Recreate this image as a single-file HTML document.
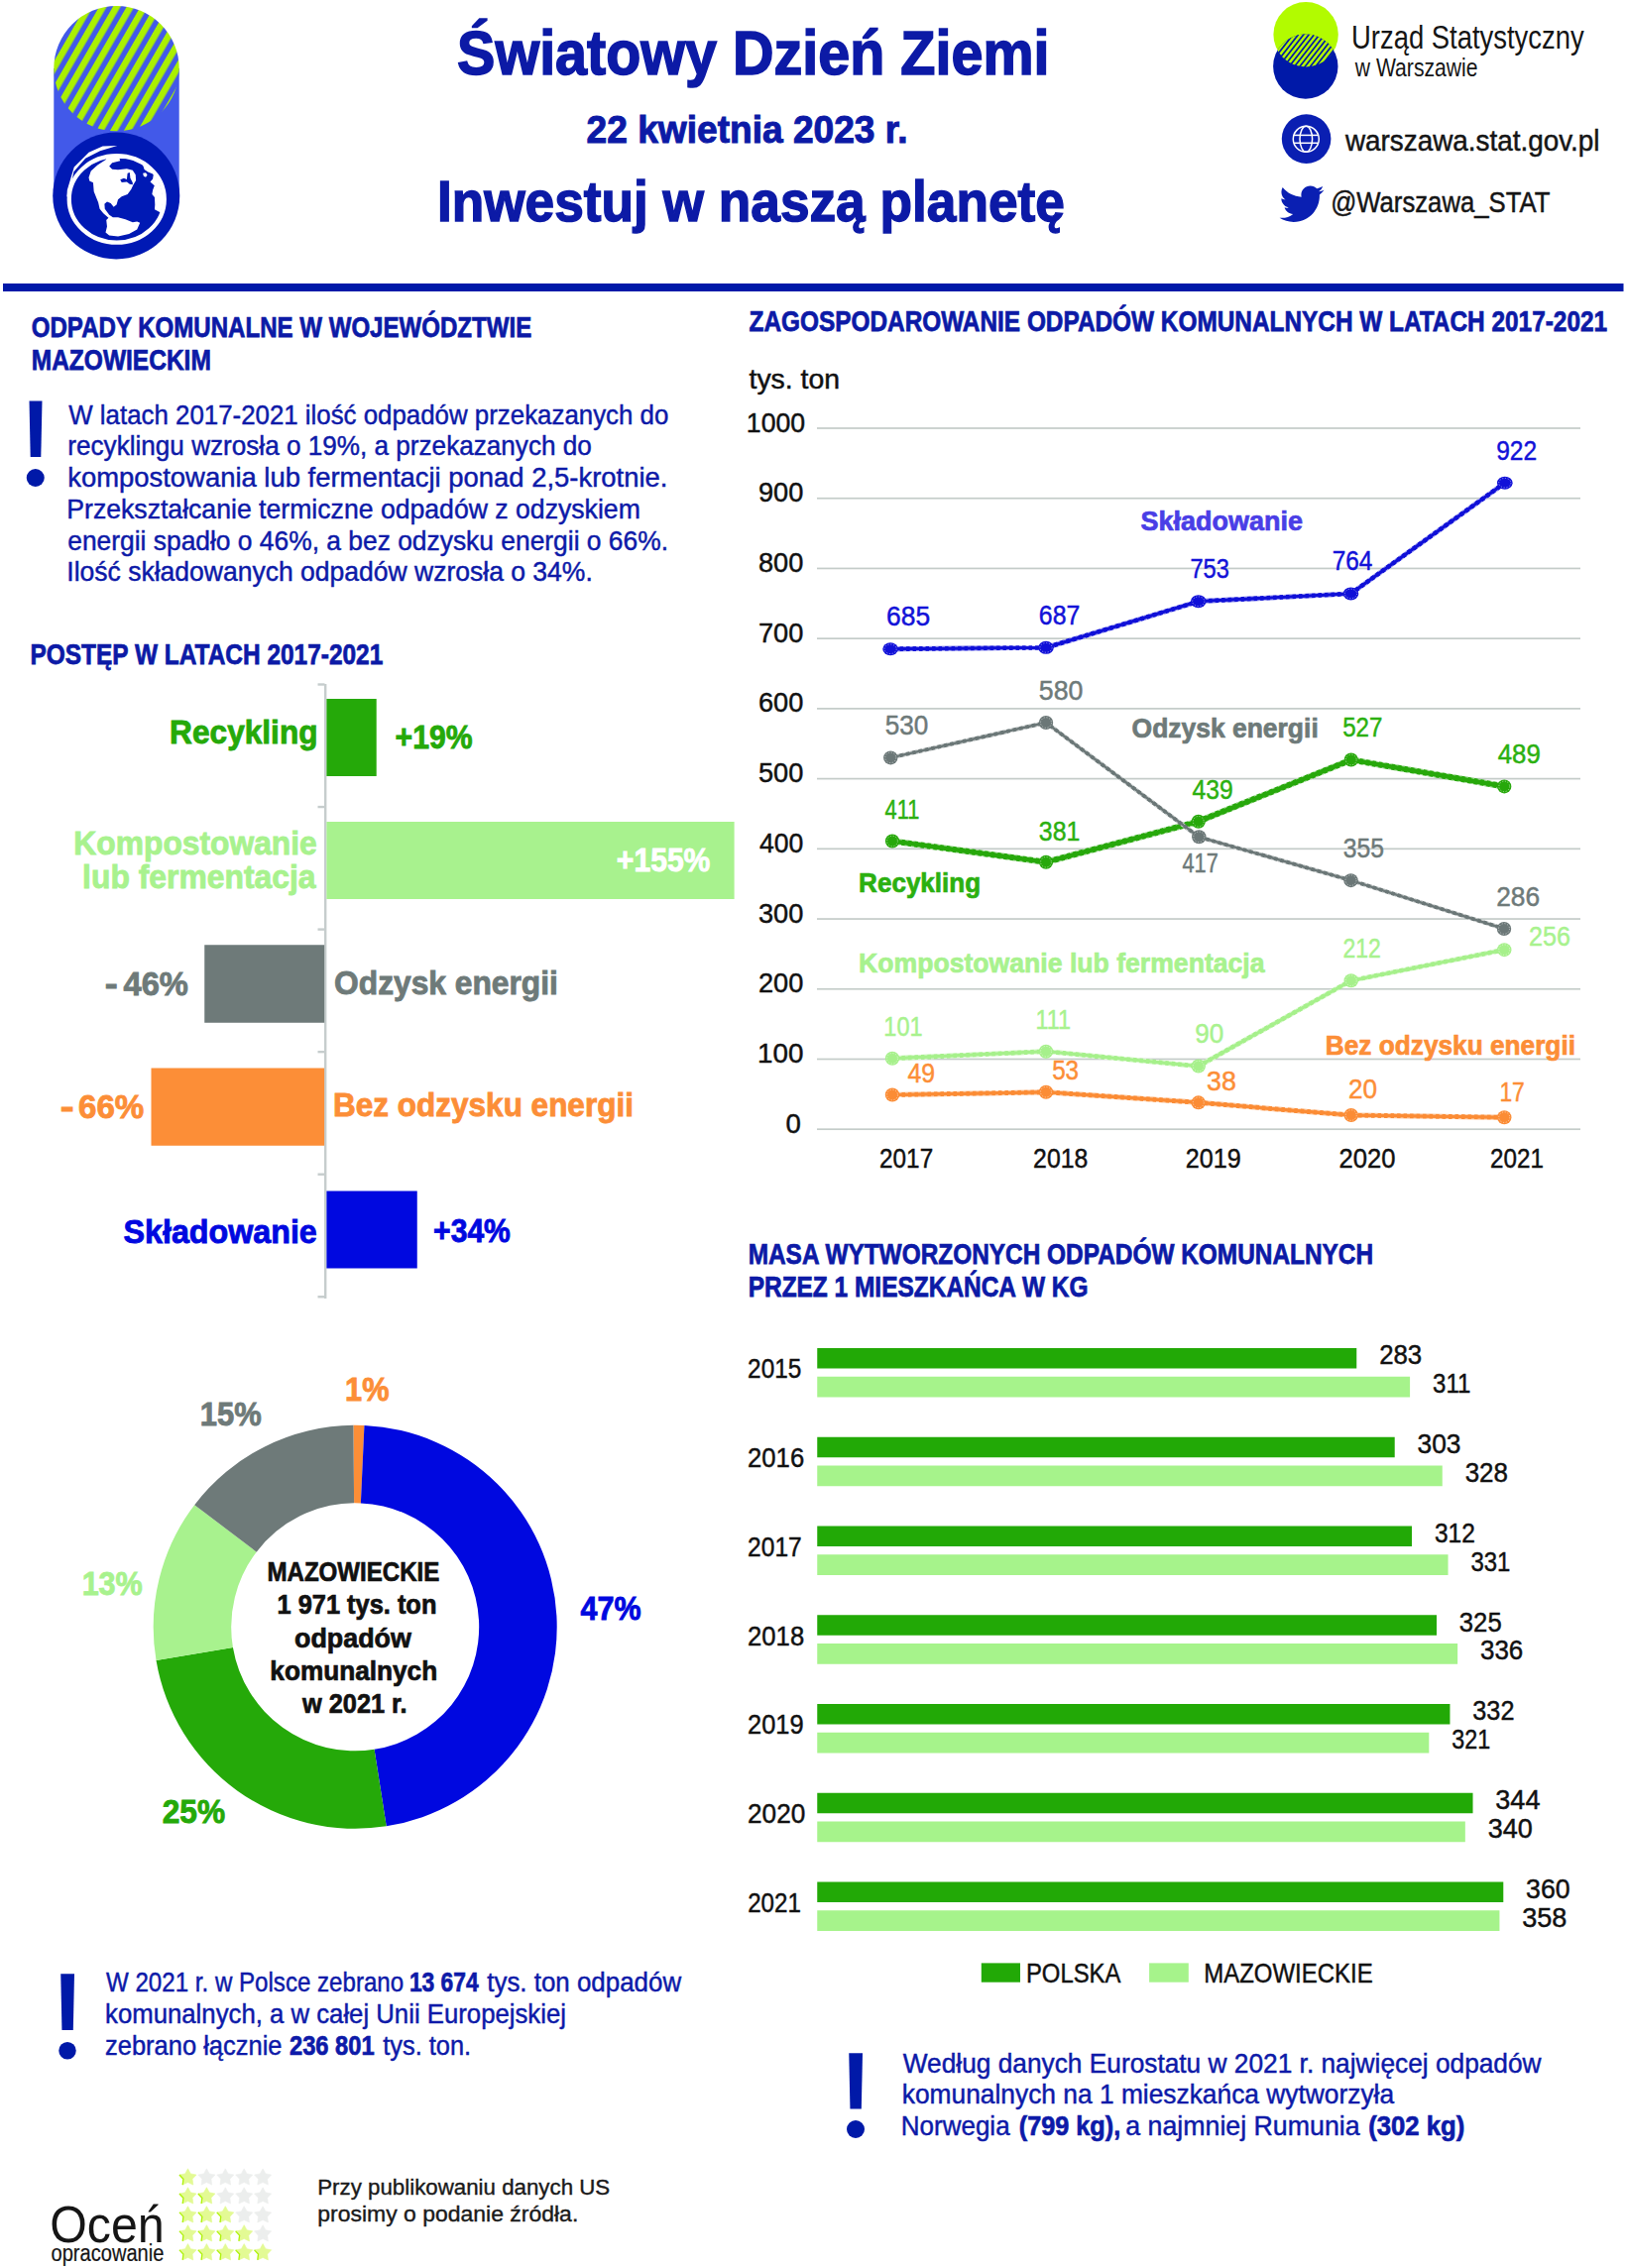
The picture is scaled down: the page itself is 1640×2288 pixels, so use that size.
<!DOCTYPE html>
<html><head><meta charset="utf-8"><style>
html,body{margin:0;padding:0;background:#fff;width:1640px;height:2288px;overflow:hidden}
svg{display:block}
text{font-family:"Liberation Sans",sans-serif}
</style></head><body>
<svg width="1640" height="2288" viewBox="0 0 1640 2288">
<rect width="1640" height="2288" fill="#fff"/>
<rect x="3" y="286" width="1634.5" height="8" fill="#0019a8"/>
<defs>
<pattern id="hatch1" patternUnits="userSpaceOnUse" width="12" height="40" patternTransform="rotate(30) translate(6.05,0)">
<rect width="12" height="40" fill="#4259e9"/><rect width="6.6" height="40" fill="#aaf000"/></pattern>
<pattern id="hatch2" patternUnits="userSpaceOnUse" width="4.2" height="20" patternTransform="rotate(38)">
<rect width="4.2" height="20" fill="#0019a8"/><rect width="2.5" height="20" fill="#b2fb00"/></pattern>
<clipPath id="lens"><circle cx="1317" cy="34.8" r="32.7"/></clipPath>
</defs>
<rect x="54.3" y="69" width="126.4" height="130" fill="#4259e9"/>
<circle cx="117.5" cy="69.1" r="63.2" fill="url(#hatch1)"/>
<circle cx="117.25" cy="197.4" r="64" fill="#0019b4"/>
<ellipse cx="117.75" cy="200.9" rx="46.5" ry="42.5" fill="#fff"/>
<clipPath id="gclip"><ellipse cx="117.75" cy="200.9" rx="47" ry="43"/></clipPath>
<polygon points="107.23,160.81 104.28,154.76 101.50,145.22 92.14,148.86 83.55,154.05 75.99,160.65 69.68,168.45 64.80,177.23 61.51,186.71 59.91,196.62 60.04,206.65 61.89,216.51 65.42,225.91 70.51,234.56 77.02,242.20 84.75,248.60 93.47,253.57 102.92,256.97 112.80,258.69 122.84,258.68 132.72,256.93 142.16,253.51 150.86,248.52 158.58,242.10 165.07,234.44 170.14,225.78 173.65,216.38 160.52,213.80 155.94,211.22 156.31,206.42 155.94,199.04 153.36,196.09 154.10,191.66 155.79,187.23 151.51,183.54 154.10,180.59 154.83,175.79 149.30,173.58 145.61,171.00 144.13,166.57 138.97,162.51 130.85,160.30 120.52,160.07 121.25,162.14 113.14,164.35 110.18,167.68 113.14,170.63 119.04,171.37 127.90,170.26 133.80,171.73 136.75,176.16 137.12,182.07 134.54,186.13 132.32,190.92 128.63,196.09 122.73,198.30 119.04,201.25 117.56,206.42 114.61,208.63 111.66,204.94 107.97,203.47 105.39,205.68 105.76,210.85 110.18,216.75 113.87,219.34 119.04,219.34 126.42,221.18 133.80,224.13 138.23,223.39 141.18,224.87 138.23,231.51 130.11,235.94 119.04,238.52 110.18,237.42 106.49,234.46 107.97,228.56 107.23,221.92 109.45,219.70 104.28,215.28 100.59,210.85 99.11,204.21 94.69,193.14 93.95,184.28 90.26,182.44 89.52,179.11 91.73,172.47 98.38,166.57 107.23,160.81" fill="#0019b4" clip-path="url(#gclip)"/>
<polygon points="121.25,181.33 124.94,179.85 127.90,180.96 128.63,174.69 130.85,173.95 131.44,179.85 133.80,184.28 133.80,186.13 130.85,185.76 127.90,183.54 122.73,183.91" fill="#0019b4"/>
<polygon points="144.13,174.69 147.08,174.32 148.56,176.53 147.08,178.75 144.87,177.64" fill="#fff"/>
<ellipse cx="117.75" cy="200.9" rx="48" ry="43.7" fill="none" stroke="#fff" stroke-width="4.3"/>
<polygon points="118.30,147.08 103.54,147.38 89.52,153.87 74.76,168.41 67.82,191.66 67.38,199.04 69.96,194.61 74.39,173.21 86.20,159.78 100.96,152.18" fill="#fff"/>
<circle cx="1317.1" cy="34.8" r="32.7" fill="#b2fb00"/>
<circle cx="1316.8" cy="67.1" r="32.7" fill="#0019a8"/>
<circle cx="1316.8" cy="67.1" r="32.7" fill="url(#hatch2)" clip-path="url(#lens)"/>
<circle cx="1317.6" cy="140.1" r="24.8" fill="#0a1fb2"/>
<g fill="none" stroke="#fff" stroke-width="1.5">
<circle cx="1317.3" cy="140.3" r="13"/>
<ellipse cx="1317.3" cy="140.3" rx="6.3" ry="13"/>
<line x1="1304.8" y1="136.4" x2="1329.8" y2="136.4"/>
<line x1="1304.8" y1="144.3" x2="1329.8" y2="144.3"/>
</g>
<path transform="translate(1290.6,183.2) scale(1.87)" fill="#0a1fb2" d="M23.954 4.569c-.885.389-1.83.654-2.825.775 1.014-.611 1.794-1.574 2.163-2.723-.951.555-2.005.959-3.127 1.184-.896-.959-2.173-1.559-3.591-1.559-2.717 0-4.92 2.203-4.92 4.917 0 .39.045.765.127 1.124C7.691 8.094 4.066 6.13 1.64 3.161c-.427.722-.666 1.561-.666 2.475 0 1.71.87 3.213 2.188 4.096-.807-.026-1.566-.248-2.228-.616v.061c0 2.385 1.693 4.374 3.946 4.827-.413.111-.849.171-1.296.171-.314 0-.615-.03-.916-.086.631 1.953 2.445 3.377 4.604 3.417-1.68 1.319-3.809 2.105-6.102 2.105-.39 0-.779-.023-1.17-.067 2.189 1.394 4.768 2.209 7.557 2.209 9.054 0 13.999-7.496 13.999-13.986 0-.209 0-.42-.015-.63.961-.689 1.8-1.56 2.46-2.548l-.047-.02z"/>
<path d="M29.5,404.5 L42.5,404.5 L41.3,461 L30.7,461 Z" fill="#0019a8"/><circle cx="35.75" cy="482" r="9" fill="#0019a8"/>
<path d="M61.25,1991.25 L75,1991.25 L73.8,2048 L62.45,2048 Z" fill="#0019a8"/><circle cx="68" cy="2068.75" r="8.75" fill="#0019a8"/>
<path d="M856.25,2071.25 L870,2071.25 L868.8,2127.5 L857.45,2127.5 Z" fill="#0019a8"/><circle cx="863" cy="2148" r="9" fill="#0019a8"/>
<rect x="327" y="690" width="2.4" height="620" fill="#c6cdcd"/>
<rect x="320.5" y="689.30" width="7" height="2.4" fill="#c6cdcd"/>
<rect x="320.5" y="812.85" width="7" height="2.4" fill="#c6cdcd"/>
<rect x="320.5" y="936.40" width="7" height="2.4" fill="#c6cdcd"/>
<rect x="320.5" y="1059.95" width="7" height="2.4" fill="#c6cdcd"/>
<rect x="320.5" y="1183.50" width="7" height="2.4" fill="#c6cdcd"/>
<rect x="320.5" y="1307.05" width="7" height="2.4" fill="#c6cdcd"/>
<rect x="329.4" y="705" width="50.3" height="78" fill="#25a909"/>
<rect x="329.4" y="829" width="411.2" height="78" fill="#a8f28e"/>
<rect x="206.25" y="953.25" width="120.9" height="78.5" fill="#6e7a79"/>
<rect x="152.5" y="1077.5" width="174.6" height="78.25" fill="#fc8e37"/>
<rect x="329.4" y="1201.5" width="91.35" height="78" fill="#0008e0"/>
<rect x="824" y="1138.35" width="770" height="1.7" fill="#c4ccc9"/>
<rect x="824" y="1067.63" width="770" height="1.7" fill="#c4ccc9"/>
<rect x="824" y="996.91" width="770" height="1.7" fill="#c4ccc9"/>
<rect x="824" y="926.19" width="770" height="1.7" fill="#c4ccc9"/>
<rect x="824" y="855.47" width="770" height="1.7" fill="#c4ccc9"/>
<rect x="824" y="784.75" width="770" height="1.7" fill="#c4ccc9"/>
<rect x="824" y="714.03" width="770" height="1.7" fill="#c4ccc9"/>
<rect x="824" y="643.31" width="770" height="1.7" fill="#c4ccc9"/>
<rect x="824" y="572.59" width="770" height="1.7" fill="#c4ccc9"/>
<rect x="824" y="501.87" width="770" height="1.7" fill="#c4ccc9"/>
<rect x="824" y="431.15" width="770" height="1.7" fill="#c4ccc9"/>
<polyline points="900.00,1104.55 1055.00,1101.72 1208.75,1112.33 1362.75,1125.06 1517.25,1127.18" fill="none" stroke="#fb8c35" stroke-width="5.0" stroke-linejoin="round"/>
<polyline points="900.00,1104.55 1055.00,1101.72 1208.75,1112.33 1362.75,1125.06 1517.25,1127.18" fill="none" stroke="#fff" stroke-opacity="0.75" stroke-width="5.0" stroke-dasharray="3 3.5" stroke-linejoin="round"/>
<polyline points="900.00,1104.55 1055.00,1101.72 1208.75,1112.33 1362.75,1125.06 1517.25,1127.18" fill="none" stroke="#fb8c35" stroke-width="3.50" stroke-linejoin="round"/>
<ellipse cx="900.00" cy="1104.55" rx="7.2" ry="7.0" fill="#fb8c35"/>
<ellipse cx="900.00" cy="1104.55" rx="5.50" ry="5.30" fill="none" stroke="#fff" stroke-opacity="0.85" stroke-width="0.6" stroke-dasharray="1.2 1.6"/>
<ellipse cx="1055.00" cy="1101.72" rx="7.2" ry="7.0" fill="#fb8c35"/>
<ellipse cx="1055.00" cy="1101.72" rx="5.50" ry="5.30" fill="none" stroke="#fff" stroke-opacity="0.85" stroke-width="0.6" stroke-dasharray="1.2 1.6"/>
<ellipse cx="1208.75" cy="1112.33" rx="7.2" ry="7.0" fill="#fb8c35"/>
<ellipse cx="1208.75" cy="1112.33" rx="5.50" ry="5.30" fill="none" stroke="#fff" stroke-opacity="0.85" stroke-width="0.6" stroke-dasharray="1.2 1.6"/>
<ellipse cx="1362.75" cy="1125.06" rx="7.2" ry="7.0" fill="#fb8c35"/>
<ellipse cx="1362.75" cy="1125.06" rx="5.50" ry="5.30" fill="none" stroke="#fff" stroke-opacity="0.85" stroke-width="0.6" stroke-dasharray="1.2 1.6"/>
<ellipse cx="1517.25" cy="1127.18" rx="7.2" ry="7.0" fill="#fb8c35"/>
<ellipse cx="1517.25" cy="1127.18" rx="5.50" ry="5.30" fill="none" stroke="#fff" stroke-opacity="0.85" stroke-width="0.6" stroke-dasharray="1.2 1.6"/>
<polyline points="900.00,1067.77 1055.00,1060.70 1208.75,1075.55 1362.75,989.27 1517.25,958.16" fill="none" stroke="#a6f08b" stroke-width="4.8" stroke-linejoin="round"/>
<polyline points="900.00,1067.77 1055.00,1060.70 1208.75,1075.55 1362.75,989.27 1517.25,958.16" fill="none" stroke="#fff" stroke-opacity="0.75" stroke-width="4.8" stroke-dasharray="3 3.5" stroke-linejoin="round"/>
<polyline points="900.00,1067.77 1055.00,1060.70 1208.75,1075.55 1362.75,989.27 1517.25,958.16" fill="none" stroke="#a6f08b" stroke-width="3.30" stroke-linejoin="round"/>
<ellipse cx="900.00" cy="1067.77" rx="7.2" ry="7.0" fill="#a6f08b"/>
<ellipse cx="900.00" cy="1067.77" rx="5.50" ry="5.30" fill="none" stroke="#fff" stroke-opacity="0.85" stroke-width="0.6" stroke-dasharray="1.2 1.6"/>
<ellipse cx="1055.00" cy="1060.70" rx="7.2" ry="7.0" fill="#a6f08b"/>
<ellipse cx="1055.00" cy="1060.70" rx="5.50" ry="5.30" fill="none" stroke="#fff" stroke-opacity="0.85" stroke-width="0.6" stroke-dasharray="1.2 1.6"/>
<ellipse cx="1208.75" cy="1075.55" rx="7.2" ry="7.0" fill="#a6f08b"/>
<ellipse cx="1208.75" cy="1075.55" rx="5.50" ry="5.30" fill="none" stroke="#fff" stroke-opacity="0.85" stroke-width="0.6" stroke-dasharray="1.2 1.6"/>
<ellipse cx="1362.75" cy="989.27" rx="7.2" ry="7.0" fill="#a6f08b"/>
<ellipse cx="1362.75" cy="989.27" rx="5.50" ry="5.30" fill="none" stroke="#fff" stroke-opacity="0.85" stroke-width="0.6" stroke-dasharray="1.2 1.6"/>
<ellipse cx="1517.25" cy="958.16" rx="7.2" ry="7.0" fill="#a6f08b"/>
<ellipse cx="1517.25" cy="958.16" rx="5.50" ry="5.30" fill="none" stroke="#fff" stroke-opacity="0.85" stroke-width="0.6" stroke-dasharray="1.2 1.6"/>
<polyline points="900.00,848.54 1055.00,869.76 1208.75,828.74 1362.75,766.51 1517.25,793.38" fill="none" stroke="#27a80b" stroke-width="6.2" stroke-linejoin="round"/>
<polyline points="900.00,848.54 1055.00,869.76 1208.75,828.74 1362.75,766.51 1517.25,793.38" fill="none" stroke="#fff" stroke-opacity="0.75" stroke-width="6.2" stroke-dasharray="3 3.5" stroke-linejoin="round"/>
<polyline points="900.00,848.54 1055.00,869.76 1208.75,828.74 1362.75,766.51 1517.25,793.38" fill="none" stroke="#27a80b" stroke-width="4.70" stroke-linejoin="round"/>
<ellipse cx="900.00" cy="848.54" rx="7.1" ry="7.0" fill="#27a80b"/>
<ellipse cx="900.00" cy="848.54" rx="5.40" ry="5.30" fill="none" stroke="#fff" stroke-opacity="0.85" stroke-width="0.6" stroke-dasharray="1.2 1.6"/>
<ellipse cx="1055.00" cy="869.76" rx="7.1" ry="7.0" fill="#27a80b"/>
<ellipse cx="1055.00" cy="869.76" rx="5.40" ry="5.30" fill="none" stroke="#fff" stroke-opacity="0.85" stroke-width="0.6" stroke-dasharray="1.2 1.6"/>
<ellipse cx="1208.75" cy="828.74" rx="7.1" ry="7.0" fill="#27a80b"/>
<ellipse cx="1208.75" cy="828.74" rx="5.40" ry="5.30" fill="none" stroke="#fff" stroke-opacity="0.85" stroke-width="0.6" stroke-dasharray="1.2 1.6"/>
<ellipse cx="1362.75" cy="766.51" rx="7.1" ry="7.0" fill="#27a80b"/>
<ellipse cx="1362.75" cy="766.51" rx="5.40" ry="5.30" fill="none" stroke="#fff" stroke-opacity="0.85" stroke-width="0.6" stroke-dasharray="1.2 1.6"/>
<ellipse cx="1517.25" cy="793.38" rx="7.1" ry="7.0" fill="#27a80b"/>
<ellipse cx="1517.25" cy="793.38" rx="5.40" ry="5.30" fill="none" stroke="#fff" stroke-opacity="0.85" stroke-width="0.6" stroke-dasharray="1.2 1.6"/>
<polyline points="898.30,764.38 1055.00,729.02 1209.30,844.30 1362.50,888.14 1517.00,936.94" fill="none" stroke="#6b7777" stroke-width="4.0" stroke-linejoin="round"/>
<polyline points="898.30,764.38 1055.00,729.02 1209.30,844.30 1362.50,888.14 1517.00,936.94" fill="none" stroke="#fff" stroke-opacity="0.75" stroke-width="4.0" stroke-dasharray="3 3.5" stroke-linejoin="round"/>
<polyline points="898.30,764.38 1055.00,729.02 1209.30,844.30 1362.50,888.14 1517.00,936.94" fill="none" stroke="#6b7777" stroke-width="2.50" stroke-linejoin="round"/>
<ellipse cx="898.30" cy="764.38" rx="7.2" ry="7.0" fill="#6b7777"/>
<ellipse cx="898.30" cy="764.38" rx="5.50" ry="5.30" fill="none" stroke="#fff" stroke-opacity="0.85" stroke-width="0.6" stroke-dasharray="1.2 1.6"/>
<ellipse cx="1055.00" cy="729.02" rx="7.2" ry="7.0" fill="#6b7777"/>
<ellipse cx="1055.00" cy="729.02" rx="5.50" ry="5.30" fill="none" stroke="#fff" stroke-opacity="0.85" stroke-width="0.6" stroke-dasharray="1.2 1.6"/>
<ellipse cx="1209.30" cy="844.30" rx="7.2" ry="7.0" fill="#6b7777"/>
<ellipse cx="1209.30" cy="844.30" rx="5.50" ry="5.30" fill="none" stroke="#fff" stroke-opacity="0.85" stroke-width="0.6" stroke-dasharray="1.2 1.6"/>
<ellipse cx="1362.50" cy="888.14" rx="7.2" ry="7.0" fill="#6b7777"/>
<ellipse cx="1362.50" cy="888.14" rx="5.50" ry="5.30" fill="none" stroke="#fff" stroke-opacity="0.85" stroke-width="0.6" stroke-dasharray="1.2 1.6"/>
<ellipse cx="1517.00" cy="936.94" rx="7.2" ry="7.0" fill="#6b7777"/>
<ellipse cx="1517.00" cy="936.94" rx="5.50" ry="5.30" fill="none" stroke="#fff" stroke-opacity="0.85" stroke-width="0.6" stroke-dasharray="1.2 1.6"/>
<polyline points="898.10,654.77 1055.00,653.35 1208.75,606.68 1362.50,598.90 1517.80,487.16" fill="none" stroke="#1010d8" stroke-width="4.8" stroke-linejoin="round"/>
<polyline points="898.10,654.77 1055.00,653.35 1208.75,606.68 1362.50,598.90 1517.80,487.16" fill="none" stroke="#fff" stroke-opacity="0.75" stroke-width="4.8" stroke-dasharray="3 3.5" stroke-linejoin="round"/>
<polyline points="898.10,654.77 1055.00,653.35 1208.75,606.68 1362.50,598.90 1517.80,487.16" fill="none" stroke="#1010d8" stroke-width="3.30" stroke-linejoin="round"/>
<ellipse cx="898.10" cy="654.77" rx="7.8" ry="6.5" fill="#1010d8"/>
<ellipse cx="898.10" cy="654.77" rx="6.10" ry="4.80" fill="none" stroke="#fff" stroke-opacity="0.85" stroke-width="0.6" stroke-dasharray="1.2 1.6"/>
<ellipse cx="1055.00" cy="653.35" rx="7.8" ry="6.5" fill="#1010d8"/>
<ellipse cx="1055.00" cy="653.35" rx="6.10" ry="4.80" fill="none" stroke="#fff" stroke-opacity="0.85" stroke-width="0.6" stroke-dasharray="1.2 1.6"/>
<ellipse cx="1208.75" cy="606.68" rx="7.8" ry="6.5" fill="#1010d8"/>
<ellipse cx="1208.75" cy="606.68" rx="6.10" ry="4.80" fill="none" stroke="#fff" stroke-opacity="0.85" stroke-width="0.6" stroke-dasharray="1.2 1.6"/>
<ellipse cx="1362.50" cy="598.90" rx="7.8" ry="6.5" fill="#1010d8"/>
<ellipse cx="1362.50" cy="598.90" rx="6.10" ry="4.80" fill="none" stroke="#fff" stroke-opacity="0.85" stroke-width="0.6" stroke-dasharray="1.2 1.6"/>
<ellipse cx="1517.80" cy="487.16" rx="7.8" ry="6.5" fill="#1010d8"/>
<ellipse cx="1517.80" cy="487.16" rx="6.10" ry="4.80" fill="none" stroke="#fff" stroke-opacity="0.85" stroke-width="0.6" stroke-dasharray="1.2 1.6"/>
<rect x="824.25" y="1360.00" width="544.01" height="20.5" fill="#22a906"/>
<rect x="824.25" y="1388.75" width="597.84" height="20.75" fill="#a6f38b"/>
<rect x="824.25" y="1449.75" width="582.46" height="20.5" fill="#22a906"/>
<rect x="824.25" y="1478.50" width="630.51" height="20.75" fill="#a6f38b"/>
<rect x="824.25" y="1539.50" width="599.76" height="20.5" fill="#22a906"/>
<rect x="824.25" y="1568.25" width="636.28" height="20.75" fill="#a6f38b"/>
<rect x="824.25" y="1629.25" width="624.75" height="20.5" fill="#22a906"/>
<rect x="824.25" y="1658.00" width="645.89" height="20.75" fill="#a6f38b"/>
<rect x="824.25" y="1719.00" width="638.20" height="20.5" fill="#22a906"/>
<rect x="824.25" y="1747.75" width="617.06" height="20.75" fill="#a6f38b"/>
<rect x="824.25" y="1808.75" width="661.27" height="20.5" fill="#22a906"/>
<rect x="824.25" y="1837.50" width="653.58" height="20.75" fill="#a6f38b"/>
<rect x="824.25" y="1898.50" width="692.03" height="20.5" fill="#22a906"/>
<rect x="824.25" y="1927.25" width="688.18" height="20.75" fill="#a6f38b"/>
<rect x="989.8" y="1980.4" width="39.2" height="19.3" fill="#22a906"/>
<rect x="1159.1" y="1980.4" width="39.7" height="19.3" fill="#a6f38b"/>
<path d="M356.42,1437.81 A203.5,203.5 0 0 1 367.45,1438.01 L363.88,1516.43 A125,125 0 0 0 357.11,1516.30 Z" fill="#fc8e37"/>
<path d="M367.45,1438.01 A203.5,203.5 0 0 1 389.70,1842.35 L377.55,1764.79 A125,125 0 0 0 363.88,1516.43 Z" fill="#0008e0"/>
<path d="M389.70,1842.35 A203.5,203.5 0 0 1 157.52,1675.05 L234.93,1662.03 A125,125 0 0 0 377.55,1764.79 Z" fill="#25a909"/>
<path d="M157.52,1675.05 A203.5,203.5 0 0 1 196.18,1518.16 L258.68,1565.66 A125,125 0 0 0 234.93,1662.03 Z" fill="#a8f28e"/>
<path d="M196.18,1518.16 A203.5,203.5 0 0 1 356.42,1437.81 L357.11,1516.30 A125,125 0 0 0 258.68,1565.66 Z" fill="#6e7a79"/>
<polygon points="189.50,2187.80 192.32,2192.92 198.06,2194.02 194.07,2198.28 194.79,2204.08 189.50,2201.60 184.21,2204.08 184.93,2198.28 180.94,2194.02 186.68,2192.92" fill="#e3fa94" stroke="#e3fa94" stroke-width="0.6" stroke-linejoin="round"/>
<polyline points="180.94,2194.02 184.93,2198.28 184.21,2204.08" fill="none" stroke="#aef20a" stroke-width="1.3"/>
<polygon points="208.40,2187.80 211.22,2192.92 216.96,2194.02 212.97,2198.28 213.69,2204.08 208.40,2201.60 203.11,2204.08 203.83,2198.28 199.84,2194.02 205.58,2192.92" fill="#eceeed" stroke="#eceeed" stroke-width="0.6" stroke-linejoin="round"/>
<polygon points="227.30,2187.80 230.12,2192.92 235.86,2194.02 231.87,2198.28 232.59,2204.08 227.30,2201.60 222.01,2204.08 222.73,2198.28 218.74,2194.02 224.48,2192.92" fill="#eceeed" stroke="#eceeed" stroke-width="0.6" stroke-linejoin="round"/>
<polygon points="246.20,2187.80 249.02,2192.92 254.76,2194.02 250.77,2198.28 251.49,2204.08 246.20,2201.60 240.91,2204.08 241.63,2198.28 237.64,2194.02 243.38,2192.92" fill="#eceeed" stroke="#eceeed" stroke-width="0.6" stroke-linejoin="round"/>
<polygon points="265.10,2187.80 267.92,2192.92 273.66,2194.02 269.67,2198.28 270.39,2204.08 265.10,2201.60 259.81,2204.08 260.53,2198.28 256.54,2194.02 262.28,2192.92" fill="#eceeed" stroke="#eceeed" stroke-width="0.6" stroke-linejoin="round"/>
<polygon points="189.50,2206.75 192.32,2211.87 198.06,2212.97 194.07,2217.23 194.79,2223.03 189.50,2220.55 184.21,2223.03 184.93,2217.23 180.94,2212.97 186.68,2211.87" fill="#e3fa94" stroke="#e3fa94" stroke-width="0.6" stroke-linejoin="round"/>
<polyline points="180.94,2212.97 184.93,2217.23 184.21,2223.03" fill="none" stroke="#aef20a" stroke-width="1.3"/>
<polygon points="208.40,2206.75 211.22,2211.87 216.96,2212.97 212.97,2217.23 213.69,2223.03 208.40,2220.55 203.11,2223.03 203.83,2217.23 199.84,2212.97 205.58,2211.87" fill="#e3fa94" stroke="#e3fa94" stroke-width="0.6" stroke-linejoin="round"/>
<polyline points="199.84,2212.97 203.83,2217.23 203.11,2223.03" fill="none" stroke="#aef20a" stroke-width="1.3"/>
<polygon points="227.30,2206.75 230.12,2211.87 235.86,2212.97 231.87,2217.23 232.59,2223.03 227.30,2220.55 222.01,2223.03 222.73,2217.23 218.74,2212.97 224.48,2211.87" fill="#eceeed" stroke="#eceeed" stroke-width="0.6" stroke-linejoin="round"/>
<polygon points="246.20,2206.75 249.02,2211.87 254.76,2212.97 250.77,2217.23 251.49,2223.03 246.20,2220.55 240.91,2223.03 241.63,2217.23 237.64,2212.97 243.38,2211.87" fill="#eceeed" stroke="#eceeed" stroke-width="0.6" stroke-linejoin="round"/>
<polygon points="265.10,2206.75 267.92,2211.87 273.66,2212.97 269.67,2217.23 270.39,2223.03 265.10,2220.55 259.81,2223.03 260.53,2217.23 256.54,2212.97 262.28,2211.87" fill="#eceeed" stroke="#eceeed" stroke-width="0.6" stroke-linejoin="round"/>
<polygon points="189.50,2225.70 192.32,2230.82 198.06,2231.92 194.07,2236.18 194.79,2241.98 189.50,2239.50 184.21,2241.98 184.93,2236.18 180.94,2231.92 186.68,2230.82" fill="#e3fa94" stroke="#e3fa94" stroke-width="0.6" stroke-linejoin="round"/>
<polyline points="180.94,2231.92 184.93,2236.18 184.21,2241.98" fill="none" stroke="#aef20a" stroke-width="1.3"/>
<polygon points="208.40,2225.70 211.22,2230.82 216.96,2231.92 212.97,2236.18 213.69,2241.98 208.40,2239.50 203.11,2241.98 203.83,2236.18 199.84,2231.92 205.58,2230.82" fill="#e3fa94" stroke="#e3fa94" stroke-width="0.6" stroke-linejoin="round"/>
<polyline points="199.84,2231.92 203.83,2236.18 203.11,2241.98" fill="none" stroke="#aef20a" stroke-width="1.3"/>
<polygon points="227.30,2225.70 230.12,2230.82 235.86,2231.92 231.87,2236.18 232.59,2241.98 227.30,2239.50 222.01,2241.98 222.73,2236.18 218.74,2231.92 224.48,2230.82" fill="#e3fa94" stroke="#e3fa94" stroke-width="0.6" stroke-linejoin="round"/>
<polyline points="218.74,2231.92 222.73,2236.18 222.01,2241.98" fill="none" stroke="#aef20a" stroke-width="1.3"/>
<polygon points="246.20,2225.70 249.02,2230.82 254.76,2231.92 250.77,2236.18 251.49,2241.98 246.20,2239.50 240.91,2241.98 241.63,2236.18 237.64,2231.92 243.38,2230.82" fill="#eceeed" stroke="#eceeed" stroke-width="0.6" stroke-linejoin="round"/>
<polygon points="265.10,2225.70 267.92,2230.82 273.66,2231.92 269.67,2236.18 270.39,2241.98 265.10,2239.50 259.81,2241.98 260.53,2236.18 256.54,2231.92 262.28,2230.82" fill="#eceeed" stroke="#eceeed" stroke-width="0.6" stroke-linejoin="round"/>
<polygon points="189.50,2244.65 192.32,2249.77 198.06,2250.87 194.07,2255.13 194.79,2260.93 189.50,2258.45 184.21,2260.93 184.93,2255.13 180.94,2250.87 186.68,2249.77" fill="#e3fa94" stroke="#e3fa94" stroke-width="0.6" stroke-linejoin="round"/>
<polyline points="180.94,2250.87 184.93,2255.13 184.21,2260.93" fill="none" stroke="#aef20a" stroke-width="1.3"/>
<polygon points="208.40,2244.65 211.22,2249.77 216.96,2250.87 212.97,2255.13 213.69,2260.93 208.40,2258.45 203.11,2260.93 203.83,2255.13 199.84,2250.87 205.58,2249.77" fill="#e3fa94" stroke="#e3fa94" stroke-width="0.6" stroke-linejoin="round"/>
<polyline points="199.84,2250.87 203.83,2255.13 203.11,2260.93" fill="none" stroke="#aef20a" stroke-width="1.3"/>
<polygon points="227.30,2244.65 230.12,2249.77 235.86,2250.87 231.87,2255.13 232.59,2260.93 227.30,2258.45 222.01,2260.93 222.73,2255.13 218.74,2250.87 224.48,2249.77" fill="#e3fa94" stroke="#e3fa94" stroke-width="0.6" stroke-linejoin="round"/>
<polyline points="218.74,2250.87 222.73,2255.13 222.01,2260.93" fill="none" stroke="#aef20a" stroke-width="1.3"/>
<polygon points="246.20,2244.65 249.02,2249.77 254.76,2250.87 250.77,2255.13 251.49,2260.93 246.20,2258.45 240.91,2260.93 241.63,2255.13 237.64,2250.87 243.38,2249.77" fill="#e3fa94" stroke="#e3fa94" stroke-width="0.6" stroke-linejoin="round"/>
<polyline points="237.64,2250.87 241.63,2255.13 240.91,2260.93" fill="none" stroke="#aef20a" stroke-width="1.3"/>
<polygon points="265.10,2244.65 267.92,2249.77 273.66,2250.87 269.67,2255.13 270.39,2260.93 265.10,2258.45 259.81,2260.93 260.53,2255.13 256.54,2250.87 262.28,2249.77" fill="#eceeed" stroke="#eceeed" stroke-width="0.6" stroke-linejoin="round"/>
<polygon points="189.50,2263.60 192.32,2268.72 198.06,2269.82 194.07,2274.08 194.79,2279.88 189.50,2277.40 184.21,2279.88 184.93,2274.08 180.94,2269.82 186.68,2268.72" fill="#e3fa94" stroke="#e3fa94" stroke-width="0.6" stroke-linejoin="round"/>
<polyline points="180.94,2269.82 184.93,2274.08 184.21,2279.88" fill="none" stroke="#aef20a" stroke-width="1.3"/>
<polygon points="208.40,2263.60 211.22,2268.72 216.96,2269.82 212.97,2274.08 213.69,2279.88 208.40,2277.40 203.11,2279.88 203.83,2274.08 199.84,2269.82 205.58,2268.72" fill="#e3fa94" stroke="#e3fa94" stroke-width="0.6" stroke-linejoin="round"/>
<polyline points="199.84,2269.82 203.83,2274.08 203.11,2279.88" fill="none" stroke="#aef20a" stroke-width="1.3"/>
<polygon points="227.30,2263.60 230.12,2268.72 235.86,2269.82 231.87,2274.08 232.59,2279.88 227.30,2277.40 222.01,2279.88 222.73,2274.08 218.74,2269.82 224.48,2268.72" fill="#e3fa94" stroke="#e3fa94" stroke-width="0.6" stroke-linejoin="round"/>
<polyline points="218.74,2269.82 222.73,2274.08 222.01,2279.88" fill="none" stroke="#aef20a" stroke-width="1.3"/>
<polygon points="246.20,2263.60 249.02,2268.72 254.76,2269.82 250.77,2274.08 251.49,2279.88 246.20,2277.40 240.91,2279.88 241.63,2274.08 237.64,2269.82 243.38,2268.72" fill="#e3fa94" stroke="#e3fa94" stroke-width="0.6" stroke-linejoin="round"/>
<polyline points="237.64,2269.82 241.63,2274.08 240.91,2279.88" fill="none" stroke="#aef20a" stroke-width="1.3"/>
<polygon points="265.10,2263.60 267.92,2268.72 273.66,2269.82 269.67,2274.08 270.39,2279.88 265.10,2277.40 259.81,2279.88 260.53,2274.08 256.54,2269.82 262.28,2268.72" fill="#e3fa94" stroke="#e3fa94" stroke-width="0.6" stroke-linejoin="round"/>
<polyline points="256.54,2269.82 260.53,2274.08 259.81,2279.88" fill="none" stroke="#aef20a" stroke-width="1.3"/>
<text x="461.08" y="75.00" font-size="62.3" font-weight="bold" fill="#0c1aa6" stroke="#0c1aa6" stroke-width="1.62" textLength="597.40" lengthAdjust="spacingAndGlyphs">Światowy Dzień Ziemi</text>
<text x="591.55" y="143.75" font-size="39.2" font-weight="bold" fill="#0c1aa6" stroke="#0c1aa6" stroke-width="1.02" textLength="323.99" lengthAdjust="spacingAndGlyphs">22 kwietnia 2023 r.</text>
<text x="440.92" y="222.80" font-size="56.5" font-weight="bold" fill="#0c1aa6" stroke="#0c1aa6" stroke-width="1.46" textLength="632.92" lengthAdjust="spacingAndGlyphs">Inwestuj w naszą planetę</text>
<text x="1363.05" y="49.10" font-size="33.2" fill="#151515" textLength="234.62" lengthAdjust="spacingAndGlyphs">Urząd Statystyczny</text>
<text x="1366.84" y="76.80" font-size="25.2" fill="#151515" textLength="123.61" lengthAdjust="spacingAndGlyphs">w Warszawie</text>
<text x="1356.94" y="151.60" font-size="29.7" fill="#151515" stroke="#151515" stroke-width="0.49" textLength="256.56" lengthAdjust="spacingAndGlyphs">warszawa.stat.gov.pl</text>
<text x="1342.20" y="213.90" font-size="28.6" fill="#151515" stroke="#151515" stroke-width="0.48" textLength="221.22" lengthAdjust="spacingAndGlyphs">@Warszawa_STAT</text>
<text x="31.77" y="339.60" font-size="28.9" font-weight="bold" fill="#0c1aa6" stroke="#0c1aa6" stroke-width="0.75" textLength="504.46" lengthAdjust="spacingAndGlyphs">ODPADY KOMUNALNE W WOJEWÓDZTWIE</text>
<text x="31.75" y="372.60" font-size="28.9" font-weight="bold" fill="#0c1aa6" stroke="#0c1aa6" stroke-width="0.75" textLength="181.05" lengthAdjust="spacingAndGlyphs">MAZOWIECKIM</text>
<text x="69.25" y="427.50" font-size="27.1" fill="#0d1aa8" stroke="#0d1aa8" stroke-width="0.45" textLength="605.07" lengthAdjust="spacingAndGlyphs">W latach 2017-2021 ilość odpadów przekazanych do</text>
<text x="68.29" y="459.00" font-size="27.1" fill="#0d1aa8" stroke="#0d1aa8" stroke-width="0.45" textLength="528.54" lengthAdjust="spacingAndGlyphs">recyklingu wzrosła o 19%, a przekazanych do</text>
<text x="68.24" y="491.00" font-size="27.1" fill="#0d1aa8" stroke="#0d1aa8" stroke-width="0.45" textLength="605.11" lengthAdjust="spacingAndGlyphs">kompostowania lub fermentacji ponad 2,5-krotnie.</text>
<text x="67.28" y="522.50" font-size="27.1" fill="#0d1aa8" stroke="#0d1aa8" stroke-width="0.45" textLength="578.56" lengthAdjust="spacingAndGlyphs">Przekształcanie termiczne odpadów z odzyskiem</text>
<text x="68.28" y="554.50" font-size="27.1" fill="#0d1aa8" stroke="#0d1aa8" stroke-width="0.45" textLength="605.71" lengthAdjust="spacingAndGlyphs">energii spadło o 46%, a bez odzysku energii o 66%.</text>
<text x="67.29" y="586.25" font-size="27.1" fill="#0d1aa8" stroke="#0d1aa8" stroke-width="0.45" textLength="530.50" lengthAdjust="spacingAndGlyphs">Ilość składowanych odpadów wzrosła o 34%.</text>
<text x="30.40" y="669.50" font-size="28.9" font-weight="bold" fill="#0c1aa6" stroke="#0c1aa6" stroke-width="0.75" textLength="355.90" lengthAdjust="spacingAndGlyphs">POSTĘP W LATACH 2017-2021</text>
<text x="171.10" y="749.80" font-size="33.4" font-weight="bold" fill="#25a909" stroke="#25a909" stroke-width="0.87" textLength="149.47" lengthAdjust="spacingAndGlyphs">Recykling</text>
<text x="74.35" y="862.00" font-size="33.4" font-weight="bold" fill="#a8f28e" stroke="#a8f28e" stroke-width="0.87" textLength="245.45" lengthAdjust="spacingAndGlyphs">Kompostowanie</text>
<text x="83.09" y="896.25" font-size="33.4" font-weight="bold" fill="#a8f28e" stroke="#a8f28e" stroke-width="0.87" textLength="235.50" lengthAdjust="spacingAndGlyphs">lub fermentacja</text>
<text x="398.60" y="755.00" font-size="33.4" font-weight="bold" fill="#25a909" stroke="#25a909" stroke-width="0.87" textLength="78.03" lengthAdjust="spacingAndGlyphs">+19%</text>
<text x="621.85" y="878.75" font-size="33.4" font-weight="bold" fill="#ffffff" stroke="#ffffff" stroke-width="0.87" textLength="94.52" lengthAdjust="spacingAndGlyphs">+155%</text>
<text x="105.83" y="1003.75" font-size="33.4" font-weight="bold" fill="#6e7a79" stroke="#6e7a79" stroke-width="0.87" textLength="12.97" lengthAdjust="spacingAndGlyphs">-</text>
<text x="124.50" y="1003.75" font-size="33.4" font-weight="bold" fill="#6e7a79" stroke="#6e7a79" stroke-width="0.87" textLength="65.43" lengthAdjust="spacingAndGlyphs">46%</text>
<text x="337.05" y="1003.00" font-size="33.4" font-weight="bold" fill="#6e7a79" stroke="#6e7a79" stroke-width="0.87" textLength="225.87" lengthAdjust="spacingAndGlyphs">Odzysk energii</text>
<text x="60.75" y="1127.50" font-size="33.4" font-weight="bold" fill="#fc8e37" stroke="#fc8e37" stroke-width="0.87" textLength="13.90" lengthAdjust="spacingAndGlyphs">-</text>
<text x="79.01" y="1127.50" font-size="33.4" font-weight="bold" fill="#fc8e37" stroke="#fc8e37" stroke-width="0.87" textLength="66.17" lengthAdjust="spacingAndGlyphs">66%</text>
<text x="336.11" y="1126.25" font-size="33.4" font-weight="bold" fill="#fc8e37" stroke="#fc8e37" stroke-width="0.87" textLength="302.78" lengthAdjust="spacingAndGlyphs">Bez odzysku energii</text>
<text x="124.50" y="1253.75" font-size="33.4" font-weight="bold" fill="#0008e0" stroke="#0008e0" stroke-width="0.87" textLength="195.30" lengthAdjust="spacingAndGlyphs">Składowanie</text>
<text x="437.10" y="1252.50" font-size="33.4" font-weight="bold" fill="#0008e0" stroke="#0008e0" stroke-width="0.87" textLength="77.77" lengthAdjust="spacingAndGlyphs">+34%</text>
<text x="755.50" y="333.75" font-size="28.9" font-weight="bold" fill="#0c1aa6" stroke="#0c1aa6" stroke-width="0.75" textLength="865.56" lengthAdjust="spacingAndGlyphs">ZAGOSPODAROWANIE ODPADÓW KOMUNALNYCH W LATACH 2017-2021</text>
<text x="755.50" y="392.00" font-size="28" fill="#111111" stroke="#111111" stroke-width="0.47" textLength="91.60" lengthAdjust="spacingAndGlyphs">tys. ton</text>
<text x="792.50" y="1142.80" font-size="27.6" fill="#111111" stroke="#111111" stroke-width="0.46" textLength="15.35" lengthAdjust="spacingAndGlyphs">0</text>
<text x="763.99" y="1072.08" font-size="27.6" fill="#111111" stroke="#111111" stroke-width="0.46" textLength="46.36" lengthAdjust="spacingAndGlyphs">100</text>
<text x="765.02" y="1001.36" font-size="27.6" fill="#111111" stroke="#111111" stroke-width="0.46" textLength="45.33" lengthAdjust="spacingAndGlyphs">200</text>
<text x="765.02" y="930.64" font-size="27.6" fill="#111111" stroke="#111111" stroke-width="0.46" textLength="45.33" lengthAdjust="spacingAndGlyphs">300</text>
<text x="766.00" y="859.92" font-size="27.6" fill="#111111" stroke="#111111" stroke-width="0.46" textLength="44.33" lengthAdjust="spacingAndGlyphs">400</text>
<text x="765.02" y="789.20" font-size="27.6" fill="#111111" stroke="#111111" stroke-width="0.46" textLength="45.33" lengthAdjust="spacingAndGlyphs">500</text>
<text x="765.02" y="718.48" font-size="27.6" fill="#111111" stroke="#111111" stroke-width="0.46" textLength="45.33" lengthAdjust="spacingAndGlyphs">600</text>
<text x="765.02" y="647.76" font-size="27.6" fill="#111111" stroke="#111111" stroke-width="0.46" textLength="45.33" lengthAdjust="spacingAndGlyphs">700</text>
<text x="765.02" y="577.04" font-size="27.6" fill="#111111" stroke="#111111" stroke-width="0.46" textLength="45.33" lengthAdjust="spacingAndGlyphs">800</text>
<text x="765.02" y="506.32" font-size="27.6" fill="#111111" stroke="#111111" stroke-width="0.46" textLength="45.33" lengthAdjust="spacingAndGlyphs">900</text>
<text x="752.82" y="435.60" font-size="27.6" fill="#111111" stroke="#111111" stroke-width="0.46" textLength="59.27" lengthAdjust="spacingAndGlyphs">1000</text>
<text x="887.12" y="1177.70" font-size="27.5" fill="#111111" stroke="#111111" stroke-width="0.46" textLength="54.03" lengthAdjust="spacingAndGlyphs">2017</text>
<text x="1042.10" y="1177.70" font-size="27.5" fill="#111111" stroke="#111111" stroke-width="0.46" textLength="55.17" lengthAdjust="spacingAndGlyphs">2018</text>
<text x="1195.84" y="1177.70" font-size="27.5" fill="#111111" stroke="#111111" stroke-width="0.46" textLength="55.84" lengthAdjust="spacingAndGlyphs">2019</text>
<text x="1350.57" y="1177.70" font-size="27.5" fill="#111111" stroke="#111111" stroke-width="0.46" textLength="56.95" lengthAdjust="spacingAndGlyphs">2020</text>
<text x="1503.12" y="1177.70" font-size="27.5" fill="#111111" stroke="#111111" stroke-width="0.46" textLength="53.77" lengthAdjust="spacingAndGlyphs">2021</text>
<text x="894.06" y="631.25" font-size="28.2" fill="#1212d8" stroke="#1212d8" stroke-width="0.47" textLength="44.07" lengthAdjust="spacingAndGlyphs">685</text>
<text x="1047.87" y="630.00" font-size="28.2" fill="#1212d8" stroke="#1212d8" stroke-width="0.47" textLength="41.48" lengthAdjust="spacingAndGlyphs">687</text>
<text x="1200.41" y="583.00" font-size="28.2" fill="#1212d8" stroke="#1212d8" stroke-width="0.47" textLength="39.40" lengthAdjust="spacingAndGlyphs">753</text>
<text x="1343.63" y="574.50" font-size="28.2" fill="#1212d8" stroke="#1212d8" stroke-width="0.47" textLength="40.70" lengthAdjust="spacingAndGlyphs">764</text>
<text x="1509.13" y="464.00" font-size="28.2" fill="#1212d8" stroke="#1212d8" stroke-width="0.47" textLength="40.96" lengthAdjust="spacingAndGlyphs">922</text>
<text x="892.82" y="740.75" font-size="28.2" fill="#6e7a79" stroke="#6e7a79" stroke-width="0.47" textLength="43.55" lengthAdjust="spacingAndGlyphs">530</text>
<text x="1047.80" y="706.25" font-size="28.2" fill="#6e7a79" stroke="#6e7a79" stroke-width="0.47" textLength="44.59" lengthAdjust="spacingAndGlyphs">580</text>
<text x="1192.50" y="880.00" font-size="28.2" fill="#6e7a79" stroke="#6e7a79" stroke-width="0.47" textLength="36.27" lengthAdjust="spacingAndGlyphs">417</text>
<text x="1354.87" y="864.50" font-size="28.2" fill="#6e7a79" stroke="#6e7a79" stroke-width="0.47" textLength="41.22" lengthAdjust="spacingAndGlyphs">355</text>
<text x="1509.17" y="914.30" font-size="28.2" fill="#6e7a79" stroke="#6e7a79" stroke-width="0.47" textLength="43.97" lengthAdjust="spacingAndGlyphs">286</text>
<text x="892.50" y="825.50" font-size="28.2" fill="#2bb010" stroke="#2bb010" stroke-width="0.47" textLength="34.77" lengthAdjust="spacingAndGlyphs">411</text>
<text x="1047.87" y="847.50" font-size="28.2" fill="#2bb010" stroke="#2bb010" stroke-width="0.47" textLength="41.48" lengthAdjust="spacingAndGlyphs">381</text>
<text x="1202.50" y="805.75" font-size="28.2" fill="#2bb010" stroke="#2bb010" stroke-width="0.47" textLength="41.09" lengthAdjust="spacingAndGlyphs">439</text>
<text x="1354.15" y="743.00" font-size="28.2" fill="#2bb010" stroke="#2bb010" stroke-width="0.47" textLength="40.18" lengthAdjust="spacingAndGlyphs">527</text>
<text x="1510.70" y="769.80" font-size="28.2" fill="#2bb010" stroke="#2bb010" stroke-width="0.47" textLength="43.12" lengthAdjust="spacingAndGlyphs">489</text>
<text x="891.33" y="1044.50" font-size="28.2" fill="#a8f28e" stroke="#a8f28e" stroke-width="0.47" textLength="39.23" lengthAdjust="spacingAndGlyphs">101</text>
<text x="1044.59" y="1037.50" font-size="28.2" fill="#a8f28e" stroke="#a8f28e" stroke-width="0.47" textLength="35.47" lengthAdjust="spacingAndGlyphs">111</text>
<text x="1205.32" y="1052.00" font-size="28.2" fill="#a8f28e" stroke="#a8f28e" stroke-width="0.47" textLength="29.05" lengthAdjust="spacingAndGlyphs">90</text>
<text x="1354.43" y="965.75" font-size="28.2" fill="#a8f28e" stroke="#a8f28e" stroke-width="0.47" textLength="38.37" lengthAdjust="spacingAndGlyphs">212</text>
<text x="1542.11" y="953.75" font-size="28.2" fill="#a8f28e" stroke="#a8f28e" stroke-width="0.47" textLength="41.89" lengthAdjust="spacingAndGlyphs">256</text>
<text x="915.50" y="1091.50" font-size="28.2" fill="#fc8e37" stroke="#fc8e37" stroke-width="0.47" textLength="27.60" lengthAdjust="spacingAndGlyphs">49</text>
<text x="1061.14" y="1088.50" font-size="28.2" fill="#fc8e37" stroke="#fc8e37" stroke-width="0.47" textLength="26.94" lengthAdjust="spacingAndGlyphs">53</text>
<text x="1217.05" y="1099.50" font-size="28.2" fill="#fc8e37" stroke="#fc8e37" stroke-width="0.47" textLength="29.85" lengthAdjust="spacingAndGlyphs">38</text>
<text x="1360.07" y="1108.00" font-size="28.2" fill="#fc8e37" stroke="#fc8e37" stroke-width="0.47" textLength="29.05" lengthAdjust="spacingAndGlyphs">20</text>
<text x="1512.38" y="1110.50" font-size="28.2" fill="#fc8e37" stroke="#fc8e37" stroke-width="0.47" textLength="25.42" lengthAdjust="spacingAndGlyphs">17</text>
<text x="1150.50" y="534.90" font-size="28.3" font-weight="bold" fill="#4a3ee6" stroke="#4a3ee6" stroke-width="0.73" textLength="163.45" lengthAdjust="spacingAndGlyphs">Składowanie</text>
<text x="1141.57" y="743.75" font-size="28.3" font-weight="bold" fill="#6e7a79" stroke="#6e7a79" stroke-width="0.73" textLength="188.18" lengthAdjust="spacingAndGlyphs">Odzysk energii</text>
<text x="866.08" y="900.00" font-size="28.3" font-weight="bold" fill="#2bb010" stroke="#2bb010" stroke-width="0.73" textLength="123.10" lengthAdjust="spacingAndGlyphs">Recykling</text>
<text x="866.06" y="980.75" font-size="28.3" font-weight="bold" fill="#a8f28e" stroke="#a8f28e" stroke-width="0.73" textLength="409.49" lengthAdjust="spacingAndGlyphs">Kompostowanie lub fermentacja</text>
<text x="1336.82" y="1063.75" font-size="28.3" font-weight="bold" fill="#fc8e37" stroke="#fc8e37" stroke-width="0.73" textLength="252.15" lengthAdjust="spacingAndGlyphs">Bez odzysku energii</text>
<text x="754.66" y="1275.00" font-size="28.9" font-weight="bold" fill="#0c1aa6" stroke="#0c1aa6" stroke-width="0.75" textLength="630.42" lengthAdjust="spacingAndGlyphs">MASA WYTWORZONYCH ODPADÓW KOMUNALNYCH</text>
<text x="754.67" y="1308.25" font-size="28.9" font-weight="bold" fill="#0c1aa6" stroke="#0c1aa6" stroke-width="0.75" textLength="342.80" lengthAdjust="spacingAndGlyphs">PRZEZ 1 MIESZKAŃCA  W KG</text>
<text x="754.12" y="1390.30" font-size="27.7" fill="#111111" stroke="#111111" stroke-width="0.46" textLength="54.23" lengthAdjust="spacingAndGlyphs">2015</text>
<text x="754.07" y="1480.05" font-size="27.7" fill="#111111" stroke="#111111" stroke-width="0.46" textLength="57.10" lengthAdjust="spacingAndGlyphs">2016</text>
<text x="754.11" y="1569.80" font-size="27.7" fill="#111111" stroke="#111111" stroke-width="0.46" textLength="54.63" lengthAdjust="spacingAndGlyphs">2017</text>
<text x="754.07" y="1659.55" font-size="27.7" fill="#111111" stroke="#111111" stroke-width="0.46" textLength="57.10" lengthAdjust="spacingAndGlyphs">2018</text>
<text x="754.08" y="1749.30" font-size="27.7" fill="#111111" stroke="#111111" stroke-width="0.46" textLength="56.58" lengthAdjust="spacingAndGlyphs">2019</text>
<text x="754.05" y="1839.05" font-size="27.7" fill="#111111" stroke="#111111" stroke-width="0.46" textLength="58.32" lengthAdjust="spacingAndGlyphs">2020</text>
<text x="754.13" y="1928.80" font-size="27.7" fill="#111111" stroke="#111111" stroke-width="0.46" textLength="53.72" lengthAdjust="spacingAndGlyphs">2021</text>
<text x="1391.13" y="1376.25" font-size="27.7" fill="#111111" stroke="#111111" stroke-width="0.46" textLength="43.10" lengthAdjust="spacingAndGlyphs">283</text>
<text x="1445.02" y="1405.00" font-size="27.7" fill="#111111" stroke="#111111" stroke-width="0.46" textLength="38.31" lengthAdjust="spacingAndGlyphs">311</text>
<text x="1429.56" y="1466.00" font-size="27.7" fill="#111111" stroke="#111111" stroke-width="0.46" textLength="43.93" lengthAdjust="spacingAndGlyphs">303</text>
<text x="1477.63" y="1494.75" font-size="27.7" fill="#111111" stroke="#111111" stroke-width="0.46" textLength="43.31" lengthAdjust="spacingAndGlyphs">328</text>
<text x="1446.92" y="1555.75" font-size="27.7" fill="#111111" stroke="#111111" stroke-width="0.46" textLength="40.92" lengthAdjust="spacingAndGlyphs">312</text>
<text x="1483.47" y="1584.50" font-size="27.7" fill="#111111" stroke="#111111" stroke-width="0.46" textLength="39.91" lengthAdjust="spacingAndGlyphs">331</text>
<text x="1471.87" y="1645.50" font-size="27.7" fill="#111111" stroke="#111111" stroke-width="0.46" textLength="42.80" lengthAdjust="spacingAndGlyphs">325</text>
<text x="1493.01" y="1674.25" font-size="27.7" fill="#111111" stroke="#111111" stroke-width="0.46" textLength="43.31" lengthAdjust="spacingAndGlyphs">336</text>
<text x="1485.34" y="1735.25" font-size="27.7" fill="#111111" stroke="#111111" stroke-width="0.46" textLength="42.09" lengthAdjust="spacingAndGlyphs">332</text>
<text x="1464.27" y="1764.00" font-size="27.7" fill="#111111" stroke="#111111" stroke-width="0.46" textLength="38.88" lengthAdjust="spacingAndGlyphs">321</text>
<text x="1508.35" y="1825.00" font-size="27.7" fill="#111111" stroke="#111111" stroke-width="0.46" textLength="45.06" lengthAdjust="spacingAndGlyphs">344</text>
<text x="1500.66" y="1853.75" font-size="27.7" fill="#111111" stroke="#111111" stroke-width="0.46" textLength="45.06" lengthAdjust="spacingAndGlyphs">340</text>
<text x="1539.11" y="1914.75" font-size="27.7" fill="#111111" stroke="#111111" stroke-width="0.46" textLength="44.55" lengthAdjust="spacingAndGlyphs">360</text>
<text x="1535.26" y="1943.50" font-size="27.7" fill="#111111" stroke="#111111" stroke-width="0.46" textLength="45.17" lengthAdjust="spacingAndGlyphs">358</text>
<text x="1034.91" y="1999.70" font-size="28.3" fill="#111111" stroke="#111111" stroke-width="0.47" textLength="95.48" lengthAdjust="spacingAndGlyphs">POLSKA</text>
<text x="1214.31" y="1999.70" font-size="28.3" fill="#111111" stroke="#111111" stroke-width="0.47" textLength="170.33" lengthAdjust="spacingAndGlyphs">MAZOWIECKIE</text>
<text x="348.12" y="1412.50" font-size="32.7" font-weight="bold" fill="#fc8e37" stroke="#fc8e37" stroke-width="0.85" textLength="44.44" lengthAdjust="spacingAndGlyphs">1%</text>
<text x="201.86" y="1437.50" font-size="32.7" font-weight="bold" fill="#6e7a79" stroke="#6e7a79" stroke-width="0.85" textLength="61.95" lengthAdjust="spacingAndGlyphs">15%</text>
<text x="82.63" y="1608.75" font-size="32.7" font-weight="bold" fill="#a8f28e" stroke="#a8f28e" stroke-width="0.85" textLength="61.18" lengthAdjust="spacingAndGlyphs">13%</text>
<text x="585.50" y="1634.10" font-size="34" font-weight="bold" fill="#0008e0" stroke="#0008e0" stroke-width="0.88" textLength="61.01" lengthAdjust="spacingAndGlyphs">47%</text>
<text x="163.66" y="1839.20" font-size="33.7" font-weight="bold" fill="#25a909" stroke="#25a909" stroke-width="0.87" textLength="63.40" lengthAdjust="spacingAndGlyphs">25%</text>
<text x="269.44" y="1595.20" font-size="28" font-weight="bold" fill="#111111" stroke="#111111" stroke-width="0.73" textLength="173.94" lengthAdjust="spacingAndGlyphs">MAZOWIECKIE</text>
<text x="279.49" y="1628.30" font-size="28" font-weight="bold" fill="#111111" stroke="#111111" stroke-width="0.73" textLength="160.91" lengthAdjust="spacingAndGlyphs">1 971 tys. ton</text>
<text x="297.04" y="1661.50" font-size="28" font-weight="bold" fill="#111111" stroke="#111111" stroke-width="0.73" textLength="117.85" lengthAdjust="spacingAndGlyphs">odpadów</text>
<text x="272.36" y="1694.60" font-size="28" font-weight="bold" fill="#111111" stroke="#111111" stroke-width="0.73" textLength="168.77" lengthAdjust="spacingAndGlyphs">komunalnych</text>
<text x="305.00" y="1727.80" font-size="28" font-weight="bold" fill="#111111" stroke="#111111" stroke-width="0.73" textLength="105.60" lengthAdjust="spacingAndGlyphs">w 2021 r.</text>
<text x="107.00" y="2008.75" font-size="27.1" fill="#0d1aa8" stroke="#0d1aa8" stroke-width="0.45" textLength="300.20" lengthAdjust="spacingAndGlyphs">W 2021 r. w Polsce zebrano</text>
<text x="412.91" y="2008.75" font-size="27.1" font-weight="bold" fill="#0d1aa8" stroke="#0d1aa8" stroke-width="0.70" textLength="69.65" lengthAdjust="spacingAndGlyphs">13 674</text>
<text x="491.25" y="2008.75" font-size="27.1" fill="#0d1aa8" stroke="#0d1aa8" stroke-width="0.45" textLength="195.84" lengthAdjust="spacingAndGlyphs">tys. ton odpadów</text>
<text x="106.05" y="2040.75" font-size="27.1" fill="#0d1aa8" stroke="#0d1aa8" stroke-width="0.45" textLength="464.92" lengthAdjust="spacingAndGlyphs">komunalnych, a w całej Unii Europejskiej</text>
<text x="106.06" y="2072.50" font-size="27.1" fill="#0d1aa8" stroke="#0d1aa8" stroke-width="0.45" textLength="178.44" lengthAdjust="spacingAndGlyphs">zebrano łącznie</text>
<text x="292.00" y="2072.50" font-size="27.1" font-weight="bold" fill="#0d1aa8" stroke="#0d1aa8" stroke-width="0.70" textLength="85.56" lengthAdjust="spacingAndGlyphs">236 801</text>
<text x="386.25" y="2072.50" font-size="27.1" fill="#0d1aa8" stroke="#0d1aa8" stroke-width="0.45" textLength="88.93" lengthAdjust="spacingAndGlyphs">tys. ton.</text>
<text x="910.75" y="2090.50" font-size="27.1" fill="#0d1aa8" stroke="#0d1aa8" stroke-width="0.45" textLength="643.83" lengthAdjust="spacingAndGlyphs">Według danych Eurostatu w 2021 r. najwięcej odpadów</text>
<text x="909.78" y="2121.75" font-size="27.1" fill="#0d1aa8" stroke="#0d1aa8" stroke-width="0.45" textLength="496.32" lengthAdjust="spacingAndGlyphs">komunalnych na 1 mieszkańca wytworzyła</text>
<text x="908.83" y="2153.75" font-size="27.1" fill="#0d1aa8" stroke="#0d1aa8" stroke-width="0.45" textLength="109.77" lengthAdjust="spacingAndGlyphs">Norwegia</text>
<text x="1027.82" y="2153.75" font-size="27.1" font-weight="bold" fill="#0d1aa8" stroke="#0d1aa8" stroke-width="0.70" textLength="102.35" lengthAdjust="spacingAndGlyphs">(799 kg),</text>
<text x="1135.26" y="2153.75" font-size="27.1" fill="#0d1aa8" stroke="#0d1aa8" stroke-width="0.45" textLength="236.32" lengthAdjust="spacingAndGlyphs">a najmniej Rumunia</text>
<text x="1380.30" y="2153.75" font-size="27.1" font-weight="bold" fill="#0d1aa8" stroke="#0d1aa8" stroke-width="0.70" textLength="96.91" lengthAdjust="spacingAndGlyphs">(302 kg)</text>
<text x="50.14" y="2261.80" font-size="52" fill="#151515" textLength="115.58" lengthAdjust="spacingAndGlyphs">Oceń</text>
<text x="51.50" y="2280.80" font-size="23.3" fill="#151515" stroke="#151515" stroke-width="0.20" textLength="113.92" lengthAdjust="spacingAndGlyphs">opracowanie</text>
<text x="320.26" y="2214.10" font-size="22.5" fill="#1a1a1a" stroke="#1a1a1a" stroke-width="0.38" textLength="294.99" lengthAdjust="spacingAndGlyphs">Przy publikowaniu danych US</text>
<text x="320.23" y="2240.75" font-size="22.5" fill="#1a1a1a" stroke="#1a1a1a" stroke-width="0.38" textLength="263.05" lengthAdjust="spacingAndGlyphs">prosimy o podanie źródła.</text>
</svg></body></html>
